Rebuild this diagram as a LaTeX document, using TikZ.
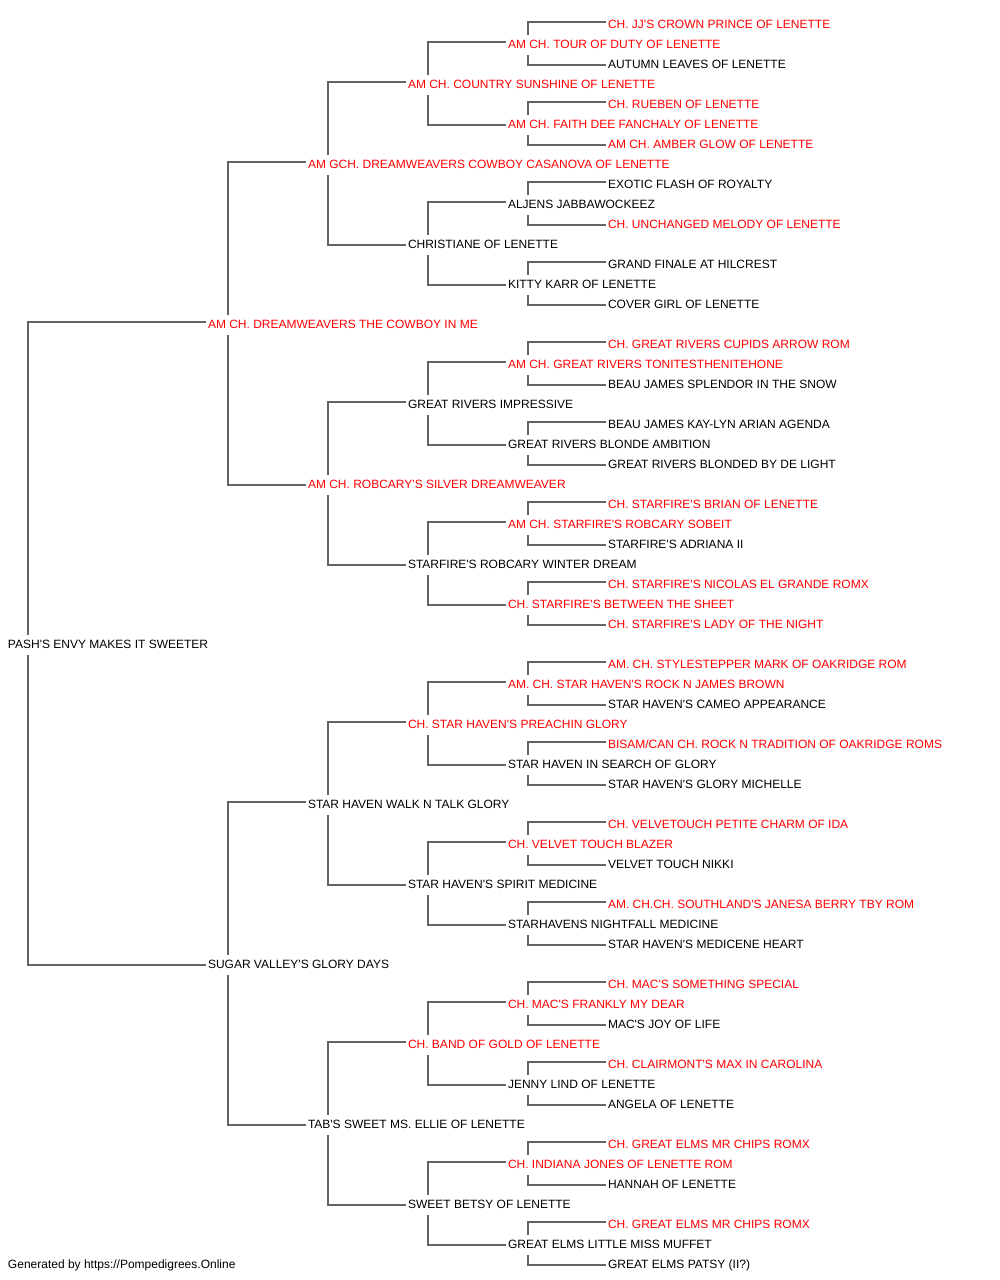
\documentclass[tikz,border=0pt]{standalone}
\usepackage{fontspec}
\setmainfont{Liberation Sans}[Ligatures=TeXOff]
\usetikzlibrary{calc}
\definecolor{linegrey}{RGB}{100,100,100}
\newcommand\pedn[4]{\node[nm,text=#3] (n#1) at (#2,{4+20*#1}) {#4};}
\begin{document}
\begin{tikzpicture}[x=1pt,y=-1pt,
  nm/.style={anchor=west,inner sep=0pt,outer sep=0pt,text height=8.6pt,text depth=0pt,font=\fontsize{12}{14}\selectfont},
  ln/.style={draw=linegrey,line width=1.3pt}]
\useasboundingbox (0,0) rectangle (1000,1280);
\pedn{1}{608}{red}{CH. JJ'S CROWN PRINCE OF LENETTE}
\pedn{2}{508}{red}{AM CH. TOUR OF DUTY OF LENETTE}
\pedn{3}{608}{black}{AUTUMN LEAVES OF LENETTE}
\pedn{4}{408}{red}{AM CH. COUNTRY SUNSHINE OF LENETTE}
\pedn{5}{608}{red}{CH. RUEBEN OF LENETTE}
\pedn{6}{508}{red}{AM CH. FAITH DEE FANCHALY OF LENETTE}
\pedn{7}{608}{red}{AM CH. AMBER GLOW OF LENETTE}
\pedn{8}{308}{red}{AM GCH. DREAMWEAVERS COWBOY CASANOVA OF LENETTE}
\pedn{9}{608}{black}{EXOTIC FLASH OF ROYALTY}
\pedn{10}{508}{black}{ALJENS JABBAWOCKEEZ}
\pedn{11}{608}{red}{CH. UNCHANGED MELODY OF LENETTE}
\pedn{12}{408}{black}{CHRISTIANE OF LENETTE}
\pedn{13}{608}{black}{GRAND FINALE AT HILCREST}
\pedn{14}{508}{black}{KITTY KARR OF LENETTE}
\pedn{15}{608}{black}{COVER GIRL OF LENETTE}
\pedn{16}{208}{red}{AM CH. DREAMWEAVERS THE COWBOY IN ME}
\pedn{17}{608}{red}{CH. GREAT RIVERS CUPIDS ARROW ROM}
\pedn{18}{508}{red}{AM CH. GREAT RIVERS TONITESTHENITEHONE}
\pedn{19}{608}{black}{BEAU JAMES SPLENDOR IN THE SNOW}
\pedn{20}{408}{black}{GREAT RIVERS IMPRESSIVE}
\pedn{21}{608}{black}{BEAU JAMES KAY-LYN ARIAN AGENDA}
\pedn{22}{508}{black}{GREAT RIVERS BLONDE AMBITION}
\pedn{23}{608}{black}{GREAT RIVERS BLONDED BY DE LIGHT}
\pedn{24}{308}{red}{AM CH. ROBCARY'S SILVER DREAMWEAVER}
\pedn{25}{608}{red}{CH. STARFIRE'S BRIAN OF LENETTE}
\pedn{26}{508}{red}{AM CH. STARFIRE'S ROBCARY SOBEIT}
\pedn{27}{608}{black}{STARFIRE'S ADRIANA II}
\pedn{28}{408}{black}{STARFIRE'S ROBCARY WINTER DREAM}
\pedn{29}{608}{red}{CH. STARFIRE'S NICOLAS EL GRANDE ROMX}
\pedn{30}{508}{red}{CH. STARFIRE'S BETWEEN THE SHEET}
\pedn{31}{608}{red}{CH. STARFIRE'S LADY OF THE NIGHT}
\pedn{32}{8}{black}{PASH'S ENVY MAKES IT SWEETER}
\pedn{33}{608}{red}{AM. CH. STYLESTEPPER MARK OF OAKRIDGE ROM}
\pedn{34}{508}{red}{AM. CH. STAR HAVEN'S ROCK N JAMES BROWN}
\pedn{35}{608}{black}{STAR HAVEN'S CAMEO APPEARANCE}
\pedn{36}{408}{red}{CH. STAR HAVEN'S PREACHIN GLORY}
\pedn{37}{608}{red}{BISAM/CAN CH. ROCK N TRADITION OF OAKRIDGE ROMS}
\pedn{38}{508}{black}{STAR HAVEN IN SEARCH OF GLORY}
\pedn{39}{608}{black}{STAR HAVEN'S GLORY MICHELLE}
\pedn{40}{308}{black}{STAR HAVEN WALK N TALK GLORY}
\pedn{41}{608}{red}{CH. VELVETOUCH PETITE CHARM OF IDA}
\pedn{42}{508}{red}{CH. VELVET TOUCH BLAZER}
\pedn{43}{608}{black}{VELVET TOUCH NIKKI}
\pedn{44}{408}{black}{STAR HAVEN'S SPIRIT MEDICINE}
\pedn{45}{608}{red}{AM. CH.CH. SOUTHLAND'S JANESA BERRY TBY ROM}
\pedn{46}{508}{black}{STARHAVENS NIGHTFALL MEDICINE}
\pedn{47}{608}{black}{STAR HAVEN'S MEDICENE HEART}
\pedn{48}{208}{black}{SUGAR VALLEY'S GLORY DAYS}
\pedn{49}{608}{red}{CH. MAC'S SOMETHING SPECIAL}
\pedn{50}{508}{red}{CH. MAC'S FRANKLY MY DEAR}
\pedn{51}{608}{black}{MAC'S JOY OF LIFE}
\pedn{52}{408}{red}{CH. BAND OF GOLD OF LENETTE}
\pedn{53}{608}{red}{CH. CLAIRMONT'S MAX IN CAROLINA}
\pedn{54}{508}{black}{JENNY LIND OF LENETTE}
\pedn{55}{608}{black}{ANGELA OF LENETTE}
\pedn{56}{308}{black}{TAB'S SWEET MS. ELLIE OF LENETTE}
\pedn{57}{608}{red}{CH. GREAT ELMS MR CHIPS ROMX}
\pedn{58}{508}{red}{CH. INDIANA JONES OF LENETTE ROM}
\pedn{59}{608}{black}{HANNAH OF LENETTE}
\pedn{60}{408}{black}{SWEET BETSY OF LENETTE}
\pedn{61}{608}{red}{CH. GREAT ELMS MR CHIPS ROMX}
\pedn{62}{508}{black}{GREAT ELMS LITTLE MISS MUFFET}
\pedn{63}{608}{black}{GREAT ELMS PATSY (II?)}
\node[nm,text=black] (footer) at (8,1264) {Generated by https://Pompedigrees.Online};
\foreach \p/\d in {32/16,16/8,48/8,8/4,24/4,40/4,56/4,
  4/2,12/2,20/2,28/2,36/2,44/2,52/2,60/2,
  2/1,6/1,10/1,14/1,18/1,22/1,26/1,30/1,34/1,38/1,42/1,46/1,50/1,54/1,58/1,62/1}{
  \pgfmathtruncatemacro\ca{\p-\d}
  \pgfmathtruncatemacro\cb{\p+\d}
  \draw[ln] ([xshift=-2pt,yshift=2pt]n\ca.west) -| ([xshift=20pt,yshift=9pt]n\p.west);
  \draw[ln] ([xshift=-2pt,yshift=-1pt]n\cb.west) -| ([xshift=20pt,yshift=-11pt]n\p.west);
}
\end{tikzpicture}
\end{document}
